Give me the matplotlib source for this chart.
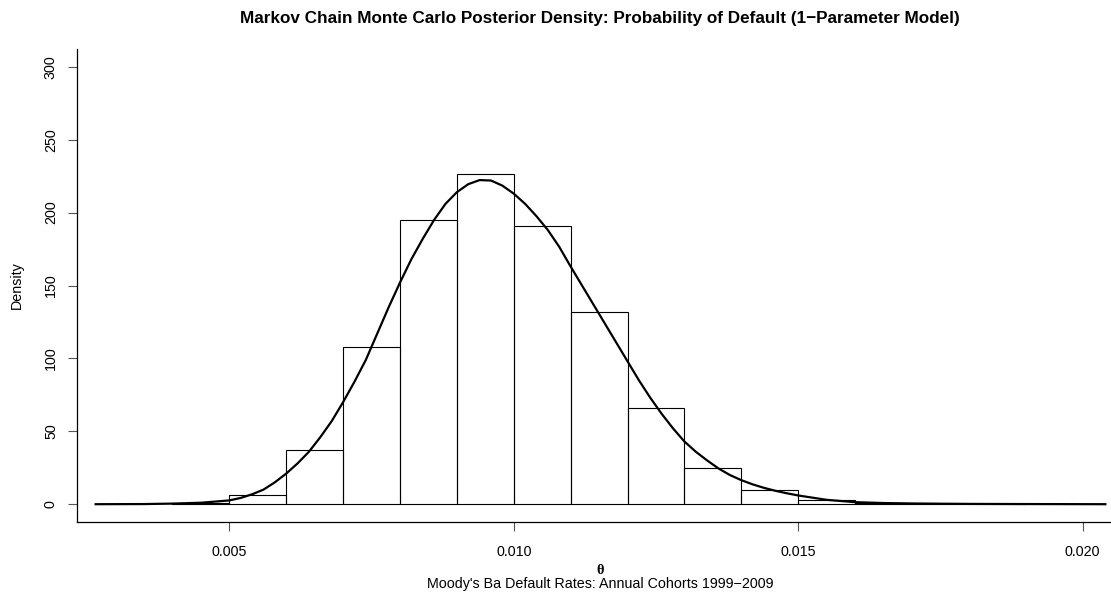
import numpy as np
import matplotlib
matplotlib.use('Agg')
import matplotlib.pyplot as plt

# histogram (density scale), bin width 0.001
bin_left = [0.004, 0.005, 0.006, 0.007, 0.008, 0.009, 0.010, 0.011,
            0.012, 0.013, 0.014, 0.015, 0.016, 0.017, 0.018]
bin_density = [1.0, 6.6, 37.5, 107.5, 194.6, 226.2, 191.0, 132.0,
               66.1, 25.0, 9.4, 3.0, 0.5, 0.2, 0.1]

# kernel density curve
kde_x = [0.00265, 0.0035, 0.0040, 0.0045, 0.0050, 0.0052, 0.0054, 0.0056,
         0.0058, 0.0060, 0.0062, 0.0064, 0.0066, 0.0068, 0.0070, 0.0072,
         0.0074, 0.0076, 0.0078, 0.0080, 0.0082, 0.0084, 0.0086, 0.0088,
         0.0090, 0.0092, 0.0094, 0.0096, 0.0098, 0.0100, 0.0102, 0.0104,
         0.0106, 0.0108, 0.0110, 0.0112, 0.0114, 0.0116, 0.0118, 0.0120,
         0.0122, 0.0124, 0.0126, 0.0128, 0.0130, 0.0132, 0.0134, 0.0136,
         0.0138, 0.0140, 0.0142, 0.0144, 0.0146, 0.0148, 0.0150, 0.0155,
         0.0160, 0.0165, 0.0170, 0.0180, 0.0190, 0.0204]
kde_y = [0.0, 0.1, 0.4, 1.0, 2.6, 4.3, 6.8, 10.0,
         15.0, 21.0, 28.0, 36.0, 46.0, 57.0, 70.0, 84.0,
         99.0, 117.0, 135.0, 152.0, 168.0, 182.0, 195.0, 206.0,
         214.0, 219.5, 222.3, 222.0, 218.5, 213.0, 206.0, 197.5,
         188.0, 176.5, 163.0, 150.0, 137.0, 124.0, 111.0, 98.0,
         85.0, 73.0, 62.0, 52.0, 43.0, 36.0, 30.0, 24.5,
         20.0, 16.5, 13.6, 11.2, 9.2, 7.5, 6.0, 3.0,
         1.4, 0.8, 0.5, 0.2, 0.1, 0.0]

x_ticks = [0.005, 0.010, 0.015, 0.020]
x_labels = ['0.005', '0.010', '0.015', '0.020']
y_ticks = [0, 50, 100, 150, 200, 250, 300]

plt.rcParams['font.family'] = ['Liberation Sans', 'DejaVu Sans']

W, H = 1111, 609
fig = plt.figure(figsize=(W / 100, H / 100), dpi=100)
ax = fig.add_axes([76.7 / W, 1 - 521.7 / H, (1123 - 76.7) / W, (521.7 - 49.3) / H])

ax.bar(bin_left, bin_density, width=0.001, align='edge', facecolor='none',
       edgecolor='black', linewidth=0.8, zorder=2)
ax.plot(kde_x, kde_y, color='black', linewidth=1.6, zorder=3,
        solid_joinstyle='round')

ax.set_xlim(0.002317, 0.02071)
ax.set_ylim(-12, 312)
ax.set_xticks(x_ticks)
ax.set_xticklabels(x_labels)
ax.set_yticks(y_ticks)
ax.set_yticklabels([str(v) for v in y_ticks], rotation=90, va='center')

for s in ['top', 'right']:
    ax.spines[s].set_visible(False)
for s in ['left', 'bottom']:
    ax.spines[s].set_linewidth(0.9)
    ax.spines[s].set_color('black')

ax.tick_params(axis='both', length=6.5, width=0.8, color='#555555',
               labelsize=10.3, direction='out')
ax.tick_params(axis='x', pad=10)
ax.tick_params(axis='y', pad=7)

fig.text(600 / W, 1 - 19 / H, 'Markov Chain Monte Carlo Posterior Density: Probability of Default (1\u2212Parameter Model)',
         ha='center', va='center', fontsize=12.3, fontweight='bold')
fig.text(16.7 / W, 1 - 285 / H, 'Density', rotation=90, ha='center', va='center', fontsize=10.3)
fig.text(600 / W, 1 - 571 / H, '\u03b8', ha='center', va='center', fontsize=10.3,
         fontweight='bold', family=['Liberation Serif', 'DejaVu Serif'])
fig.text(600 / W, 1 - 584 / H, "Moody's Ba Default Rates: Annual Cohorts 1999\u22122009",
         ha='center', va='center', fontsize=10.3)

fig.savefig('out.png', dpi=100)
